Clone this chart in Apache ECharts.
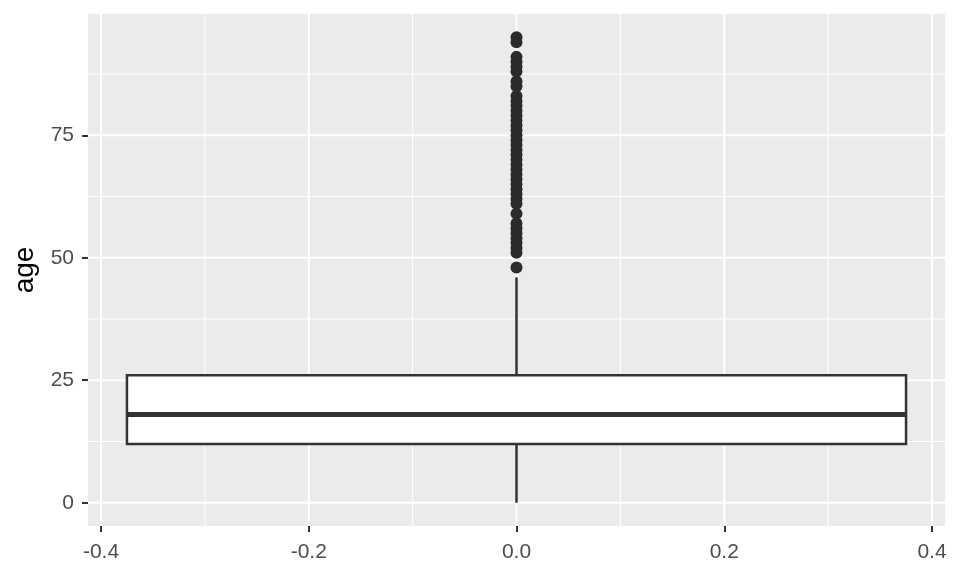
<!DOCTYPE html>
<html><head><meta charset="utf-8">
<script src="https://cdn.jsdelivr.net/npm/echarts@6/dist/echarts.min.js"></script>
<style>html,body{margin:0;padding:0;background:#fff}#c{width:960px;height:576px}</style>
</head><body><div id="c"></div>
<script>
// Data
const boxStats = [0, 12, 18, 26, 46]; // lower whisker, Q1, median, Q3, upper whisker
const outlierAges = [48, 51, 52, 53, 54, 55, 56, 57, 59, 61, 62, 63, 64, 65, 66, 67, 68, 69, 70,
  71, 72, 73, 74, 75, 76, 77, 78, 79, 80, 81, 82, 83, 85, 86, 88, 89, 90, 91, 94, 95];
const groupX = 0;
const boxExtent = [-0.375, 0.375];
const xTicks = [-0.4, -0.2, 0, 0.2, 0.4];
const xMinor = [-0.3, -0.1, 0.1, 0.3];
const yTicks = [0, 25, 50, 75];
const yMinor = [12.5, 37.5, 62.5, 87.5];

const gridLines = [];
xTicks.forEach(v => gridLines.push(['x', v, 2]));
xMinor.forEach(v => gridLines.push(['x', v, 1]));
yTicks.forEach(v => gridLines.push(['y', v, 2]));
yMinor.forEach(v => gridLines.push(['y', v, 1]));

const chart = echarts.init(document.getElementById('c'), null, {renderer: 'canvas'});
const font = 'Liberation Sans, Arial, sans-serif';
chart.setOption({
  animation: false,
  backgroundColor: '#FFFFFF',
  grid: {left: 88, right: 15, top: 14, bottom: 50, show: true, backgroundColor: '#EBEBEB', borderWidth: 0},
  xAxis: {
    type: 'value', min: -0.4125, max: 0.4125,
    axisLine: {show: false, onZero: false},
    splitLine: {show: false},
    axisTick: {show: true, length: 6, lineStyle: {color: '#333333', width: 2}, customValues: xTicks},
    axisLabel: {customValues: xTicks, color: '#4D4D4D', fontSize: 21, fontFamily: font, margin: 16,
      formatter: v => (Math.abs(v) < 1e-9 ? 0 : v).toFixed(1)}
  },
  yAxis: {
    type: 'value', min: -4.75, max: 99.75,
    name: 'age', nameLocation: 'middle', nameGap: 44, nameRotate: 90,
    nameTextStyle: {color: '#000000', fontSize: 28, fontFamily: font},
    axisLine: {show: false, onZero: false},
    splitLine: {show: false},
    axisTick: {show: true, length: 6, lineStyle: {color: '#333333', width: 2}, customValues: yTicks},
    axisLabel: {customValues: yTicks, color: '#4D4D4D', fontSize: 21, fontFamily: font, margin: 14}
  },
  series: [
    {
      type: 'custom', z: 1, silent: true,
      data: gridLines,
      renderItem: function (params, api) {
        const cs = params.coordSys;
        const dir = gridLines[params.dataIndex][0];
        const v = gridLines[params.dataIndex][1];
        const w = gridLines[params.dataIndex][2];
        let shape;
        if (dir === 'x') {
          const p = api.coord([v, 0]);
          shape = {x1: p[0], y1: cs.y, x2: p[0], y2: cs.y + cs.height};
        } else {
          const p = api.coord([0, v]);
          shape = {x1: cs.x, y1: p[1], x2: cs.x + cs.width, y2: p[1]};
        }
        return {type: 'line', shape: shape, style: {stroke: '#FFFFFF', lineWidth: w}};
      }
    },
    {
      type: 'custom', z: 2, silent: true,
      data: [[groupX].concat(boxStats)],
      renderItem: function (params, api) {
        const lo = api.coord([groupX, boxStats[0]]);
        const q1 = api.coord([boxExtent[1], boxStats[1]]);
        const med = api.coord([boxExtent[0], boxStats[2]]);
        const medR = api.coord([boxExtent[1], boxStats[2]]);
        const q3 = api.coord([boxExtent[0], boxStats[3]]);
        const hi = api.coord([groupX, boxStats[4]]);
        const q1c = api.coord([groupX, boxStats[1]]);
        const q3c = api.coord([groupX, boxStats[3]]);
        const stroke = '#333333';
        return {
          type: 'group',
          children: [
            {type: 'line', shape: {x1: hi[0], y1: hi[1], x2: q3c[0], y2: q3c[1]}, style: {stroke: stroke, lineWidth: 2.5}},
            {type: 'line', shape: {x1: lo[0], y1: lo[1], x2: q1c[0], y2: q1c[1]}, style: {stroke: stroke, lineWidth: 2.5}},
            {type: 'rect', shape: {x: q3[0], y: q3[1], width: q1[0] - q3[0], height: q1[1] - q3[1]},
              style: {fill: '#FFFFFF', stroke: stroke, lineWidth: 2.5}},
            {type: 'line', shape: {x1: med[0], y1: med[1], x2: medR[0], y2: medR[1]}, style: {stroke: stroke, lineWidth: 5}}
          ]
        };
      }
    },
    {
      type: 'scatter', z: 3, silent: true,
      data: outlierAges.map(a => [groupX, a]),
      symbol: 'circle', symbolSize: 12,
      itemStyle: {color: '#2B2B2B', opacity: 1}
    }
  ]
});
</script></body></html>
